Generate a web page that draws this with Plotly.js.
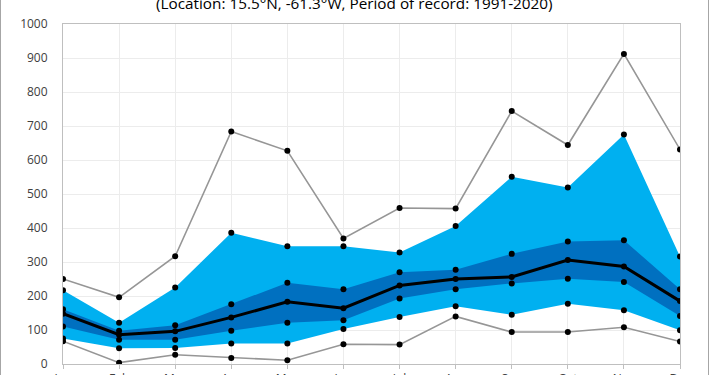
<!DOCTYPE html>
<html>
<head>
<meta charset="utf-8">
<script src="https://cdn.plot.ly/plotly-3.0.1.min.js"></script>
<style>
  html, body { margin: 0; padding: 0; background: #fff; }
  #chart { width: 710px; height: 375px; }
</style>
</head>
<body>
<div id="chart"></div>
<script>
const months = ["Jan", "Feb", "Mar", "Apr", "May", "Jun", "Jul", "Aug", "Sep", "Oct", "Nov", "Dec"];
const maxVals    = [250, 196, 317, 684, 627, 369, 459, 457, 744, 644, 912, 631];
const p90Vals    = [217, 121, 225, 386, 346, 346, 328, 406, 551, 519, 675, 316];
const p75Vals    = [161,  98, 114, 176, 239, 220, 270, 277, 324, 360, 364, 220];
const medianVals = [148,  86,  96, 137, 183, 164, 231, 250, 256, 306, 287, 185];
const p25Vals    = [110,  71,  71,  98, 121, 129, 193, 220, 237, 251, 241, 141];
const p10Vals    = [ 75,  46,  47,  60,  60, 103, 138, 170, 145, 177, 158,  99];
const minVals    = [ 67,   4,  27,  18,  11,  58,  57, 140,  94,  94, 108,  66];
const yTicks = [0, 100, 200, 300, 400, 500, 600, 700, 800, 900, 1000];
const titleText = "(Location: 15.5°N, -61.3°W, Period of record: 1991-2020)";

const lightBlue = "#00B0F0";
const darkBlue = "#0070C0";
const gray = "#969696";
const dot = {color: "#000", size: 6};

const traces = [
  {x: months, y: p10Vals, mode: "lines", line: {width: 0}, hoverinfo: "skip", showlegend: false},
  {x: months, y: p90Vals, mode: "lines", line: {width: 0}, fill: "tonexty", fillcolor: lightBlue, showlegend: false},
  {x: months, y: p25Vals, mode: "lines", line: {width: 0}, hoverinfo: "skip", showlegend: false},
  {x: months, y: p75Vals, mode: "lines", line: {width: 0}, fill: "tonexty", fillcolor: darkBlue, showlegend: false},
  {x: months, y: maxVals, mode: "lines+markers", line: {color: gray, width: 1.6}, marker: dot, showlegend: false},
  {x: months, y: minVals, mode: "lines+markers", line: {color: gray, width: 1.6}, marker: dot, showlegend: false},
  {x: months, y: p90Vals, mode: "markers", marker: dot, showlegend: false},
  {x: months, y: p75Vals, mode: "markers", marker: dot, showlegend: false},
  {x: months, y: p25Vals, mode: "markers", marker: dot, showlegend: false},
  {x: months, y: p10Vals, mode: "markers", marker: dot, showlegend: false},
  {x: months, y: medianVals, mode: "lines+markers", line: {color: "#000", width: 3}, marker: dot, showlegend: false}
];

const font = {family: "Open Sans, sans-serif", size: 12, color: "#404040"};

const layout = {
  width: 710, height: 375,
  margin: {l: 63, r: 30, t: 24, b: 11, pad: 0},
  paper_bgcolor: "#fff", plot_bgcolor: "#fff",
  font: font,
  showlegend: false,
  annotations: [{
    text: titleText, showarrow: false,
    font: {family: "Open Sans, sans-serif", size: 15.3, color: "#000"},
    xref: "paper", x: (354 - 63) / 617, xanchor: "center",
    yref: "paper", y: (364 - 3) / 340, yanchor: "middle"
  }],
  xaxis: {
    type: "category", categoryorder: "array", categoryarray: months,
    range: [0, 11], fixedrange: true,
    showgrid: true, gridcolor: "#ececec", gridwidth: 1,
    showline: true, linecolor: "#bfbfbf", linewidth: 1, mirror: true,
    ticks: "outside", ticklen: 4, tickcolor: "#bfbfbf",
    ticklabelstandoff: 0,
    tickfont: {family: "Open Sans, sans-serif", size: 12, color: "#404040"},
    zeroline: false
  },
  yaxis: {
    range: [0, 1000], tickvals: yTicks, ticktext: yTicks.map(String),
    showgrid: true, gridcolor: "#ececec", gridwidth: 1,
    showline: true, linecolor: "#bfbfbf", linewidth: 1, mirror: true,
    ticks: "", ticklabelstandoff: 12,
    tickfont: {family: "Open Sans, sans-serif", size: 12, color: "#404040"},
    zeroline: false, fixedrange: true
  },
  shapes: [
    {type: "line", xref: "paper", yref: "paper", x0: (0.5 - 63) / 617, x1: (0.5 - 63) / 617, y0: -0.1, y1: 1.2, line: {color: "#a6a6a6", width: 1}},
    {type: "line", xref: "paper", yref: "paper", x0: (708.5 - 63) / 617, x1: (708.5 - 63) / 617, y0: -0.1, y1: 1.2, line: {color: "#a6a6a6", width: 1}}
  ]
};

Plotly.newPlot("chart", traces, layout, {displayModeBar: false, staticPlot: true});
</script>
</body>
</html>
